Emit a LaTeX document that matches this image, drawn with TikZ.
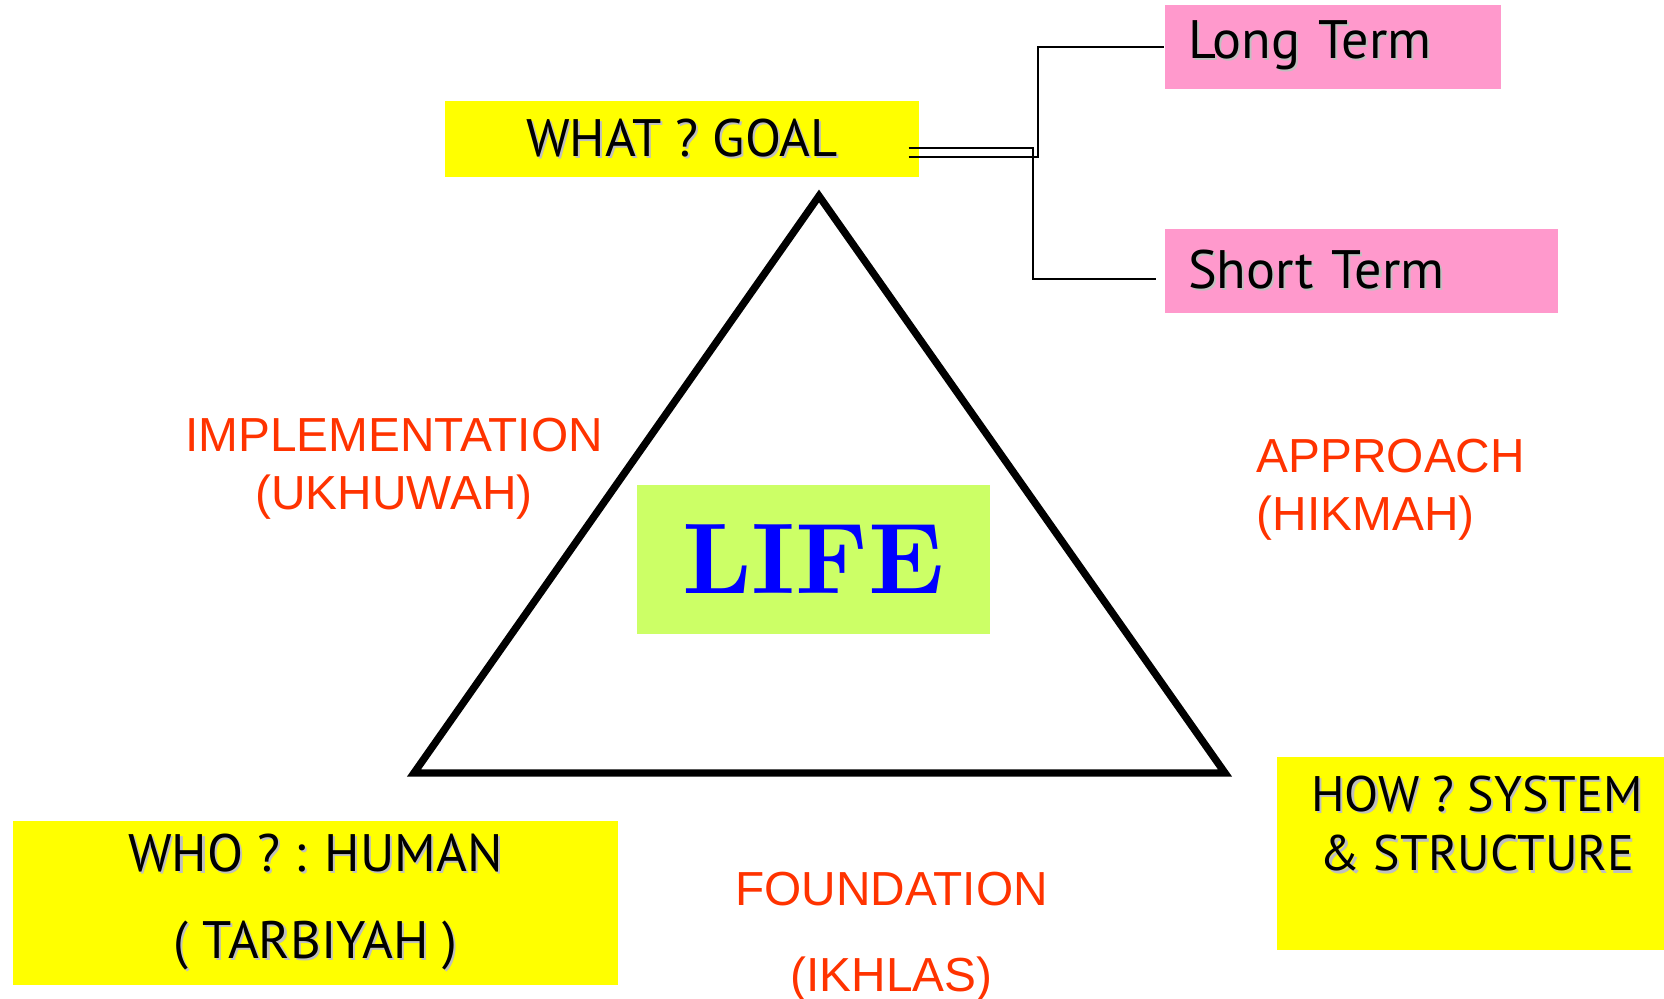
\documentclass[tikz,border=0pt]{standalone}
\usepackage{fontspec}
\setmainfont{Liberation Sans}
\newfontfamily\handfont{PT Sans}
\newfontfamily\lifefont{lmroman10-bold.otf}
\usetikzlibrary{calc}
\definecolor{boxyellow}{RGB}{255,255,0}
\definecolor{boxpink}{RGB}{255,153,204}
\definecolor{boxgreen}{RGB}{204,255,102}
\definecolor{lifeblue}{RGB}{0,0,255}
\definecolor{labelred}{RGB}{255,51,0}
\newcommand\shadowed[1]{\leavevmode\rlap{\kern0.6pt\raisebox{-0.6pt}{\textcolor{black!25}{#1}}}#1}
\tikzset{
	goalbox/.style={fill=boxyellow, inner sep=0pt, align=center, font=\handfont\fontsize{14.2}{17}\selectfont},
	termbox/.style={fill=boxpink, inner ysep=0pt, inner xsep=2.3mm, minimum height=8.4mm, align=left, font=\handfont\fontsize{15.4}{18}\selectfont},
	redlabel/.style={text=labelred, inner sep=0pt, font=\fontsize{13.6}{16.5}\selectfont},
	link/.style={line width=0.6pt},
}

\begin{document}
\begin{tikzpicture}[x=0.1mm, y=-0.1mm]
		%%%%% START %%%%%
		\useasboundingbox (0, 0) rectangle (1664, 999);
		
		\draw[line width=2.1pt] (414, 773) -- (819, 196) -- (1225, 773) -- cycle;
		
		\node[goalbox, minimum width=47.4mm, minimum height=7.6mm, font=\handfont\fontsize{15}{17}\selectfont] (goal) at (682, 139) {\shadowed{WHAT ? GOAL}};
		\node[termbox, text width=29mm] (long) at (1333, 46.7) {\shadowed{Long Term}};
		\node[termbox, text width=34.7mm] (short) at (1361.5, 271) {\shadowed{Short Term}};
		
		\node[fill=boxgreen, minimum width=35.3mm, minimum height=14.9mm, text=lifeblue, font=\lifefont\fontsize{28.6}{30}\selectfont] (life) at (813.5, 559.5) {LIFE};
		
		\node[goalbox, minimum width=60.5mm, minimum height=16.4mm, font=\handfont\fontsize{15}{17}\selectfont] (who) at (315.5, 903) {\shadowed{WHO ? : HUMAN}\\[7.7pt] \shadowed{( TARBIYAH )}};
		\node[goalbox, minimum width=38.7mm, minimum height=19.3mm] (howbox) at (1470.5, 853.5) {};
		\node[goalbox, fill=none, anchor=north] (how) at (1477, 775) {\shadowed{HOW ? SYSTEM}\\ \shadowed{\& STRUCTURE}};
		
		\node[redlabel, anchor=north, align=center] (impl) at (394, 417) {IMPLEMENTATION\\(UKHUWAH)};
		\node[redlabel, anchor=north west, align=left] (appr) at (1256, 438) {APPROACH\\(HIKMAH)};
		\node[redlabel, anchor=north, align=center] (found) at (891.5, 871) {FOUNDATION\\[8pt](IKHLAS)};
		
		\coordinate (g1) at ($(goal.east)+(-11, 9)$);
		\coordinate (g2) at ($(goal.east)+(-11, 18)$);
		\coordinate (s1) at ($(short.west)+(-8, 8)$);
		\coordinate (ss) at (1033, 0);
		\coordinate (ls) at (1038, 0);
		\draw[link] (g1) -| (ss |- s1) -- (s1);
		\draw[link] (g2) -| (ls |- long.west) -- (long.west);
		
		%%%%% END %%%%%
	\end{tikzpicture}
\end{document}
